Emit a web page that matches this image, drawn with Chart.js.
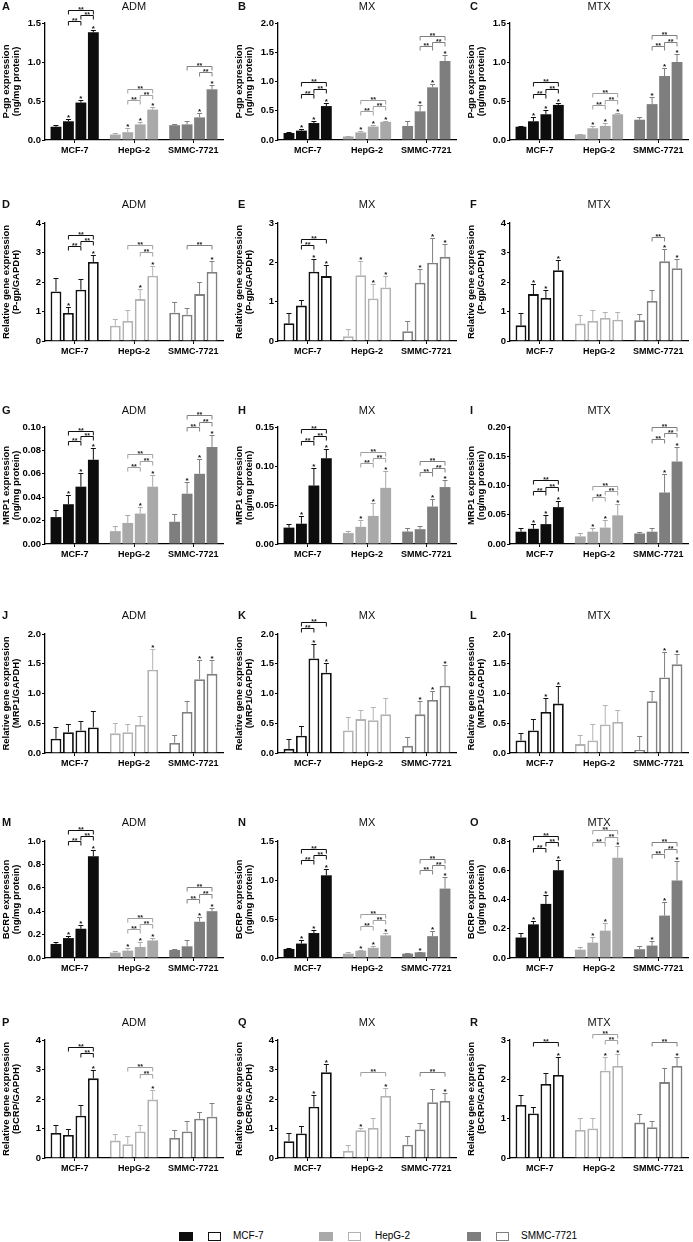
<!DOCTYPE html>
<html><head><meta charset="utf-8">
<script src="https://cdn.jsdelivr.net/npm/chart.js@4.4.1/dist/chart.umd.min.js"></script>
<style>
body{margin:0;background:#fff;width:693px;height:1242px;position:relative;overflow:hidden;font-family:"Liberation Sans",Arial,sans-serif;color:#111;}
canvas{position:absolute;}
.lt{position:absolute;font-weight:bold;font-size:11px;line-height:12px;}
.tt{position:absolute;font-size:11px;line-height:12px;text-align:center;width:100px;}
.lg{position:absolute;box-sizing:border-box;}
.lgt{position:absolute;font-size:10px;line-height:12px;color:#000;}
</style></head><body>
<script>
const F = '"Liberation Sans", Arial, sans-serif';
const categories = ['MCF-7','HepG-2','SMMC-7721'];
const drugs = ['ADM','MX','MTX'];
const letters = ['A','B','C','D','E','F','G','H','I','J','K','L','M','N','O','P','Q','R'];
const yTitles = [
  ['P-gp expression','(ng/mg protein)'],
  ['Relative gene expression','(P-gp/GAPDH)'],
  ['MRP1 expression','(ng/mg protein)'],
  ['Relative gene expression','(MRP1/GAPDH)'],
  ['BCRP expression','(ng/mg protein)'],
  ['Relative gene expression','(BCRP/GAPDH)']
];
// y axis: max, step, decimals per panel
const yMax  = [1.5,2.0,1.5, 4,3,4, 0.10,0.15,0.20, 2.0,2.0,2.0, 1.0,1.5,0.8, 4,4,3];
const yStep = [0.5,0.5,0.5, 1,1,1, 0.02,0.05,0.05, 0.5,0.5,0.5, 0.2,0.5,0.2, 1,1,1];
const yDec  = [1,1,1, 0,0,0, 2,2,2, 1,1,1, 1,1,1, 0,0,0];

// means [group][bar], errors [group][bar], stars [group] -> bar indices, brackets [group, fromBar, toBar, yValue]
const A_m=[[0.17,0.24,0.48,1.38],[0.07,0.10,0.20,0.39],[0.19,0.20,0.29,0.65]];
const A_e=[[0.02,0.03,0.03,0.03],[0.02,0.05,0.03,0.03],[0.01,0.04,0.05,0.05]];
const A_s=[[1,2,3],[1,2,3],[2,3]];
const A_b=[[0,1,2,1.52],[0,2,3,1.60],[0,1,3,1.67],[1,1,2,0.51],[1,2,3,0.58],[1,1,3,0.66],[2,2,3,0.87],[2,1,3,0.95]];

const B_m=[[0.12,0.16,0.29,0.58],[0.06,0.13,0.23,0.31],[0.24,0.49,0.90,1.35]];
const B_e=[[0.02,0.03,0.04,0.05],[0.01,0.02,0.03,0.02],[0.09,0.10,0.06,0.10]];
const B_s=[[1,2,3],[1,2,3],[1,2,3]];
const B_b=[[0,1,2,0.79],[0,2,3,0.87],[0,1,3,0.99],[1,1,2,0.49],[1,2,3,0.58],[1,1,3,0.68],[2,1,2,1.61],[2,2,3,1.68],[2,1,3,1.78]];

const C_m=[[0.17,0.24,0.33,0.45],[0.07,0.15,0.18,0.33],[0.26,0.46,0.82,1.00]];
const C_e=[[0.005,0.05,0.05,0.03],[0.005,0.03,0.04,0.02],[0.03,0.09,0.10,0.10]];
const C_s=[[1,2,3],[1,2,3],[1,2,3]];
const C_b=[[0,1,2,0.59],[0,2,3,0.65],[0,1,3,0.74],[1,1,2,0.45],[1,2,3,0.51],[1,1,3,0.60],[2,1,2,1.21],[2,2,3,1.26],[2,1,3,1.34]];

const D_m=[[1.68,0.95,1.74,2.68],[0.52,0.68,1.42,2.21],[0.96,0.89,1.59,2.34]];
const D_e=[[0.46,0.20,0.37,0.23],[0.24,0.37,0.35,0.32],[0.36,0.23,0.42,0.37]];
const D_s=[[1,3],[2,3],[3]];
const D_b=[[0,1,2,3.22],[0,2,3,3.39],[0,1,3,3.59],[1,2,3,3.03],[1,1,3,3.25],[2,1,3,3.25]];

const E_m=[[0.45,0.90,1.76,1.65],[0.12,1.67,1.08,1.36],[0.25,1.48,1.99,2.14]];
const E_e=[[0.27,0.15,0.32,0.27],[0.18,0.36,0.37,0.29],[0.26,0.34,0.64,0.32]];
const E_s=[[2,3],[1,2,3],[1,2,3]];
const E_b=[[0,1,2,2.44],[0,1,3,2.59]];

const F_m=[[0.53,1.59,1.46,2.40],[0.59,0.68,0.78,0.72],[0.70,1.36,2.70,2.47]];
const F_e=[[0.43,0.34,0.27,0.36],[0.30,0.36,0.20,0.26],[0.23,0.37,0.41,0.31]];
const F_s=[[1,2,3],[],[2,3]];
const F_b=[[2,1,2,3.54]];

const G_m=[[0.023,0.034,0.049,0.072],[0.011,0.018,0.026,0.049],[0.019,0.043,0.060,0.083]];
const G_e=[[0.006,0.008,0.012,0.010],[0.004,0.007,0.006,0.010],[0.007,0.010,0.013,0.010]];
const G_s=[[1,2,3],[2,3],[1,2,3]];
const G_b=[[0,1,2,0.088],[0,2,3,0.092],[0,1,3,0.097],[1,1,2,0.066],[1,2,3,0.071],[1,1,3,0.077],[2,1,2,0.100],[2,2,3,0.1045],[2,1,3,0.110]];

const H_m=[[0.021,0.026,0.075,0.110],[0.014,0.022,0.036,0.072],[0.016,0.019,0.048,0.073]];
const H_e=[[0.005,0.010,0.023,0.012],[0.003,0.009,0.016,0.022],[0.005,0.004,0.010,0.009]];
const H_s=[[1,2,3],[1,2,3],[2,3]];
const H_b=[[0,1,2,0.132],[0,2,3,0.139],[0,1,3,0.147],[1,1,2,0.104],[1,2,3,0.110],[1,1,3,0.118],[2,1,2,0.092],[2,2,3,0.098],[2,1,3,0.107]];

const I_m=[[0.021,0.026,0.034,0.063],[0.013,0.021,0.028,0.049],[0.018,0.021,0.088,0.141]];
const I_e=[[0.007,0.008,0.015,0.011],[0.005,0.007,0.013,0.019],[0.003,0.007,0.032,0.024]];
const I_s=[[1,2,3],[1,2,3],[2,3]];
const I_b=[[0,1,2,0.090],[0,2,3,0.098],[0,1,3,0.110],[1,1,2,0.080],[1,2,3,0.090],[1,1,3,0.100],[2,1,2,0.180],[2,2,3,0.189],[2,1,3,0.200]];

const J_m=[[0.24,0.35,0.38,0.43],[0.33,0.35,0.47,1.40],[0.17,0.69,1.24,1.33]];
const J_e=[[0.20,0.13,0.15,0.27],[0.18,0.13,0.15,0.34],[0.14,0.19,0.32,0.23]];
const J_s=[[],[3],[2,3]];
const J_b=[];

const K_m=[[0.07,0.29,1.59,1.35],[0.38,0.57,0.55,0.65],[0.12,0.65,0.89,1.13]];
const K_e=[[0.17,0.16,0.24,0.16],[0.22,0.15,0.22,0.28],[0.15,0.23,0.16,0.35]];
const K_s=[[2,3],[],[1,2,3]];
const K_b=[[0,1,2,2.10],[0,1,3,2.21]];

const L_m=[[0.21,0.38,0.69,0.83],[0.15,0.21,0.48,0.52],[0.05,0.87,1.27,1.49]];
const L_e=[[0.13,0.19,0.23,0.29],[0.16,0.27,0.32,0.20],[0.24,0.18,0.43,0.17]];
const L_s=[[2,3],[],[2,3]];
const L_b=[];

const M_m=[[0.12,0.17,0.25,0.87],[0.046,0.063,0.094,0.15],[0.069,0.10,0.31,0.40]];
const M_e=[[0.02,0.02,0.03,0.05],[0.01,0.02,0.04,0.02],[0.01,0.05,0.04,0.03]];
const M_s=[[1,2,3],[1,2,3],[2,3]];
const M_b=[[0,1,2,1.00],[0,2,3,1.04],[0,1,3,1.09],[1,1,2,0.246],[1,2,3,0.29],[1,1,3,0.346],[2,1,2,0.506],[2,2,3,0.549],[2,1,3,0.603]];

const N_m=[[0.116,0.185,0.32,1.06],[0.056,0.094,0.13,0.29],[0.056,0.073,0.28,0.89]];
const N_e=[[0.01,0.04,0.04,0.08],[0.02,0.013,0.03,0.03],[0.013,0.01,0.07,0.15]];
const N_s=[[1,2,3],[1,2,3],[1,2,3]];
const N_b=[[0,1,2,1.26],[0,2,3,1.32],[0,1,3,1.40],[1,1,2,0.416],[1,2,3,0.49],[1,1,3,0.56],[2,1,2,1.13],[2,2,3,1.19],[2,1,3,1.27]];

const O_m=[[0.14,0.23,0.37,0.60],[0.057,0.105,0.187,0.686],[0.06,0.085,0.29,0.53]];
const O_e=[[0.03,0.02,0.06,0.07],[0.015,0.04,0.05,0.08],[0.02,0.03,0.09,0.13]];
const O_s=[[1,2,3],[1,2,3],[1,2,3]];
const O_b=[[0,1,2,0.752],[0,2,3,0.79],[0,1,3,0.832],[1,1,2,0.79],[1,2,3,0.827],[1,1,3,0.873],[2,1,2,0.71],[2,2,3,0.747],[2,1,3,0.79]];

const P_m=[[0.85,0.78,1.43,2.70],[0.59,0.47,0.90,1.98],[0.68,0.90,1.33,1.40]];
const P_e=[[0.28,0.21,0.37,0.30],[0.23,0.27,0.21,0.32],[0.27,0.35,0.23,0.46]];
const P_s=[[3],[3],[]];
const P_b=[[0,2,3,3.56],[0,1,3,3.76],[1,2,3,2.85],[1,1,3,3.08]];

const Q_m=[[0.57,0.83,1.74,2.91],[0.24,0.94,1.02,2.10],[0.45,0.97,1.89,1.93]];
const Q_e=[[0.29,0.25,0.40,0.27],[0.19,0.09,0.32,0.26],[0.29,0.20,0.44,0.26]];
const Q_s=[[2,3],[1,3],[3]];
const Q_b=[[1,1,3,2.92],[2,1,3,2.92]];

const R_m=[[1.35,1.13,1.88,2.11],[0.71,0.75,2.22,2.34],[0.90,0.78,1.93,2.34]];
const R_e=[[0.25,0.17,0.28,0.47],[0.31,0.26,0.36,0.31],[0.22,0.17,0.37,0.22]];
const R_s=[[3],[2,3],[3]];
const R_b=[[0,1,3,2.96],[1,2,3,2.99],[1,1,3,3.16],[2,1,3,2.96]];

const means=[A_m,B_m,C_m,D_m,E_m,F_m,G_m,H_m,I_m,J_m,K_m,L_m,M_m,N_m,O_m,P_m,Q_m,R_m];
const errs=[A_e,B_e,C_e,D_e,E_e,F_e,G_e,H_e,I_e,J_e,K_e,L_e,M_e,N_e,O_e,P_e,Q_e,R_e];
const stars=[A_s,B_s,C_s,D_s,E_s,F_s,G_s,H_s,I_s,J_s,K_s,L_s,M_s,N_s,O_s,P_s,Q_s,R_s];
const brackets=[A_b,B_b,C_b,D_b,E_b,F_b,G_b,H_b,I_b,J_b,K_b,L_b,M_b,N_b,O_b,P_b,Q_b,R_b];

// styling / layout
const groupFill=['#0d0d0d','#a9a9a9','#7e7e7e'];
const groupLine=['#111111','#b3b3b3','#808080'];
const colLeft=[0,233,465];
const rowTop=[0,197,403,608,815,1015];
const chartTop=[23,223,427,634,841,1040];
const chartBot=[140,341,544,753,958,1158];
const rowLabelY=[6,204,410,615,822,1022];
const W=228;

function makeAnnot(k, filled){
  return {id:'annot'+k, afterDatasetsDraw(chart){
    const ctx=chart.ctx, ys=chart.scales.y;
    ctx.save();
    chart.data.datasets.forEach((ds,j)=>{
      const meta=chart.getDatasetMeta(j);
      meta.data.forEach((bar,g)=>{
        const v=ds.data[g], e=errs[k][g][j];
        const yT=Math.round(ys.getPixelForValue(v+e))+0.5, yB=ys.getPixelForValue(v);
        ctx.strokeStyle=filled?groupFill[g]:groupLine[g]; ctx.lineWidth=1;
        ctx.beginPath();
        ctx.moveTo(bar.x,yB); ctx.lineTo(bar.x,yT);
        ctx.moveTo(bar.x-2.5,yT); ctx.lineTo(bar.x+2.5,yT);
        ctx.stroke();
        if(stars[k][g].includes(j)){
          ctx.fillStyle='#111'; ctx.font='bold 8px '+F; ctx.textAlign='center'; ctx.textBaseline='alphabetic';
          ctx.fillText('*',bar.x,yT+0.5);
        }
      });
    });
    brackets[k].forEach(([g,a,c,val])=>{
      const x1=chart.getDatasetMeta(a).data[g].x, x2=chart.getDatasetMeta(c).data[g].x;
      const yy=Math.round(ys.getPixelForValue(val))+0.5;
      ctx.strokeStyle=g===0?'#111':(g===1?'#a0a0a0':'#808080'); ctx.lineWidth=1;
      ctx.beginPath(); ctx.moveTo(x1,yy+4); ctx.lineTo(x1,yy); ctx.lineTo(x2,yy); ctx.lineTo(x2,yy+4); ctx.stroke();
      ctx.fillStyle='#222'; ctx.font='bold 7px '+F; ctx.textAlign='center'; ctx.textBaseline='alphabetic';
      ctx.fillText('**',(x1+x2)/2,yy+1);
    });
    ctx.restore();
  }};
}

for(let k=0;k<18;k++){
  const row=Math.floor(k/3), col=k%3;
  const filled = row%2===0;
  const cv=document.createElement('canvas');
  const H=chartBot[row]-rowTop[row]+22;
  cv.width=W; cv.height=H;
  cv.style.left=colLeft[col]+'px'; cv.style.top=rowTop[row]+'px';
  cv.style.width=W+'px'; cv.style.height=H+'px';
  document.body.appendChild(cv);

  const lt=document.createElement('div'); lt.className='lt'; lt.textContent=letters[k];
  lt.style.left=(colLeft[col]+2+(col===0?0:3))+'px'; lt.style.top=(rowLabelY[row]-6)+'px';
  document.body.appendChild(lt);
  const tt=document.createElement('div'); tt.className='tt'; tt.textContent=drugs[col];
  tt.style.left=(colLeft[col]+134-50)+'px'; tt.style.top=(rowLabelY[row]-6)+'px';
  document.body.appendChild(tt);

  const dec=yDec[k];
  new Chart(cv,{
    type:'bar',
    data:{labels:categories, datasets:[0,1,2,3].map(j=>({
      data: means[k].map(gr=>gr[j]),
      backgroundColor: filled?groupFill:'#ffffff',
      borderColor: filled?groupFill:groupLine,
      borderWidth: filled?0:1.8,
      categoryPercentage:0.84, barPercentage:0.87
    }))},
    options:{
      responsive:false, animation:false, devicePixelRatio:1,
      layout:{padding:{top:chartTop[row]-rowTop[row],right:5,left:0,bottom:0}},
      plugins:{legend:{display:false},tooltip:{enabled:false}},
      scales:{
        x:{
          grid:{display:true,drawOnChartArea:false,offset:false,tickLength:3,color:'#000'},
          border:{color:'#000',width:1.3},
          ticks:{font:{family:F,size:9,weight:'bold'},color:'#000',padding:2,maxRotation:0,autoSkip:false},
          afterFit(s){s.height=22;}
        },
        y:{
          min:0,max:yMax[k],
          ticks:{stepSize:yStep[k],callback:v=>Number(v).toFixed(dec),font:{family:F,size:9.5,weight:'bold'},color:'#000',padding:1},
          grid:{drawOnChartArea:false,tickLength:3,color:'#000'},
          border:{color:'#000',width:1.3},
          title:{display:true,text:yTitles[row],font:{family:F,size:9.5,weight:'bold',lineHeight:1.1},color:'#000',padding:{top:1,bottom:0}},
          afterFit(s){s.width=45;}
        }
      }
    },
    plugins:[makeAnnot(k,filled)]
  });
}

// legend
const legendItems=[[179,208,233],[319,348,375],[467,496,521]];
legendItems.forEach(([f,o,t],g)=>{
  const a=document.createElement('div'); a.className='lg';
  a.style.cssText+=`left:${f}px;top:1232px;width:14px;height:9px;background:${groupFill[g]};`;
  document.body.appendChild(a);
  const b=document.createElement('div'); b.className='lg';
  b.style.cssText+=`left:${o}px;top:1232px;width:13px;height:9px;border:1.6px solid ${groupLine[g]};background:#fff;`;
  document.body.appendChild(b);
  const c=document.createElement('div'); c.className='lgt'; c.textContent=categories[g];
  c.style.left=t+'px'; c.style.top='1230px';
  document.body.appendChild(c);
});
</script>
</body></html>
